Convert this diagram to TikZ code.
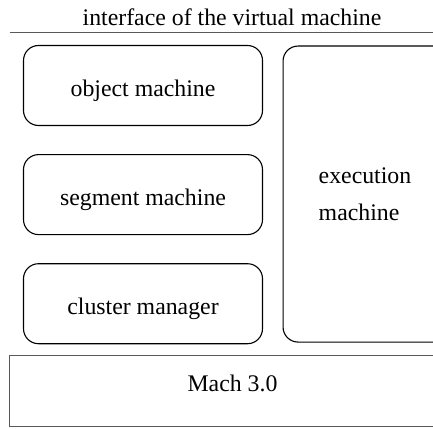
\documentclass[tikz,border=0pt]{standalone}
\usepackage{fontspec}
\setmainfont{Liberation Serif}
\usetikzlibrary{positioning}
\tikzset{
  vmbox/.style={draw, rounded corners=15pt, line width=1.1pt, inner sep=0pt,
    minimum width=239pt, minimum height=80pt, text height=22pt, text depth=0pt},
  machbox/.style={draw=black!65, line width=1.2pt, inner sep=0pt,
    minimum width=446pt, minimum height=71pt},
  every node/.style={font=\fontsize{23.8}{37}\selectfont}
}

\begin{document}
\begin{tikzpicture}[x=1pt,y=1pt]
\useasboundingbox (0,0) rectangle (433,-428);
\clip (0,0) rectangle (433,-428);
\node (title) at (232,-17) {interface of the virtual machine};
\coordinate (ifl) at (9.5,-32.5);
\coordinate (ifr) at (455,-32.5);
\draw[black!65, line width=1.2pt] (ifl) -- (ifr);
\node[vmbox] (object) at (143,-85.5) {object machine};
\node[vmbox, below=28pt of object] (segment) {segment machine};
\node[vmbox, below=28pt of segment] (cluster) {cluster manager};
\node[vmbox, anchor=north west, minimum width=165pt, minimum height=296pt]
  (exec) at (282.5,-45.5) {};
\node[align=left, inner sep=0pt] (execlbl) at (365,-194.5) {execution\\machine};
\node[machbox] (mach) at (232.5,-391) {};
\node (machlbl) at (232.5,-383.5) {Mach 3.0};
\end{tikzpicture}
\end{document}
